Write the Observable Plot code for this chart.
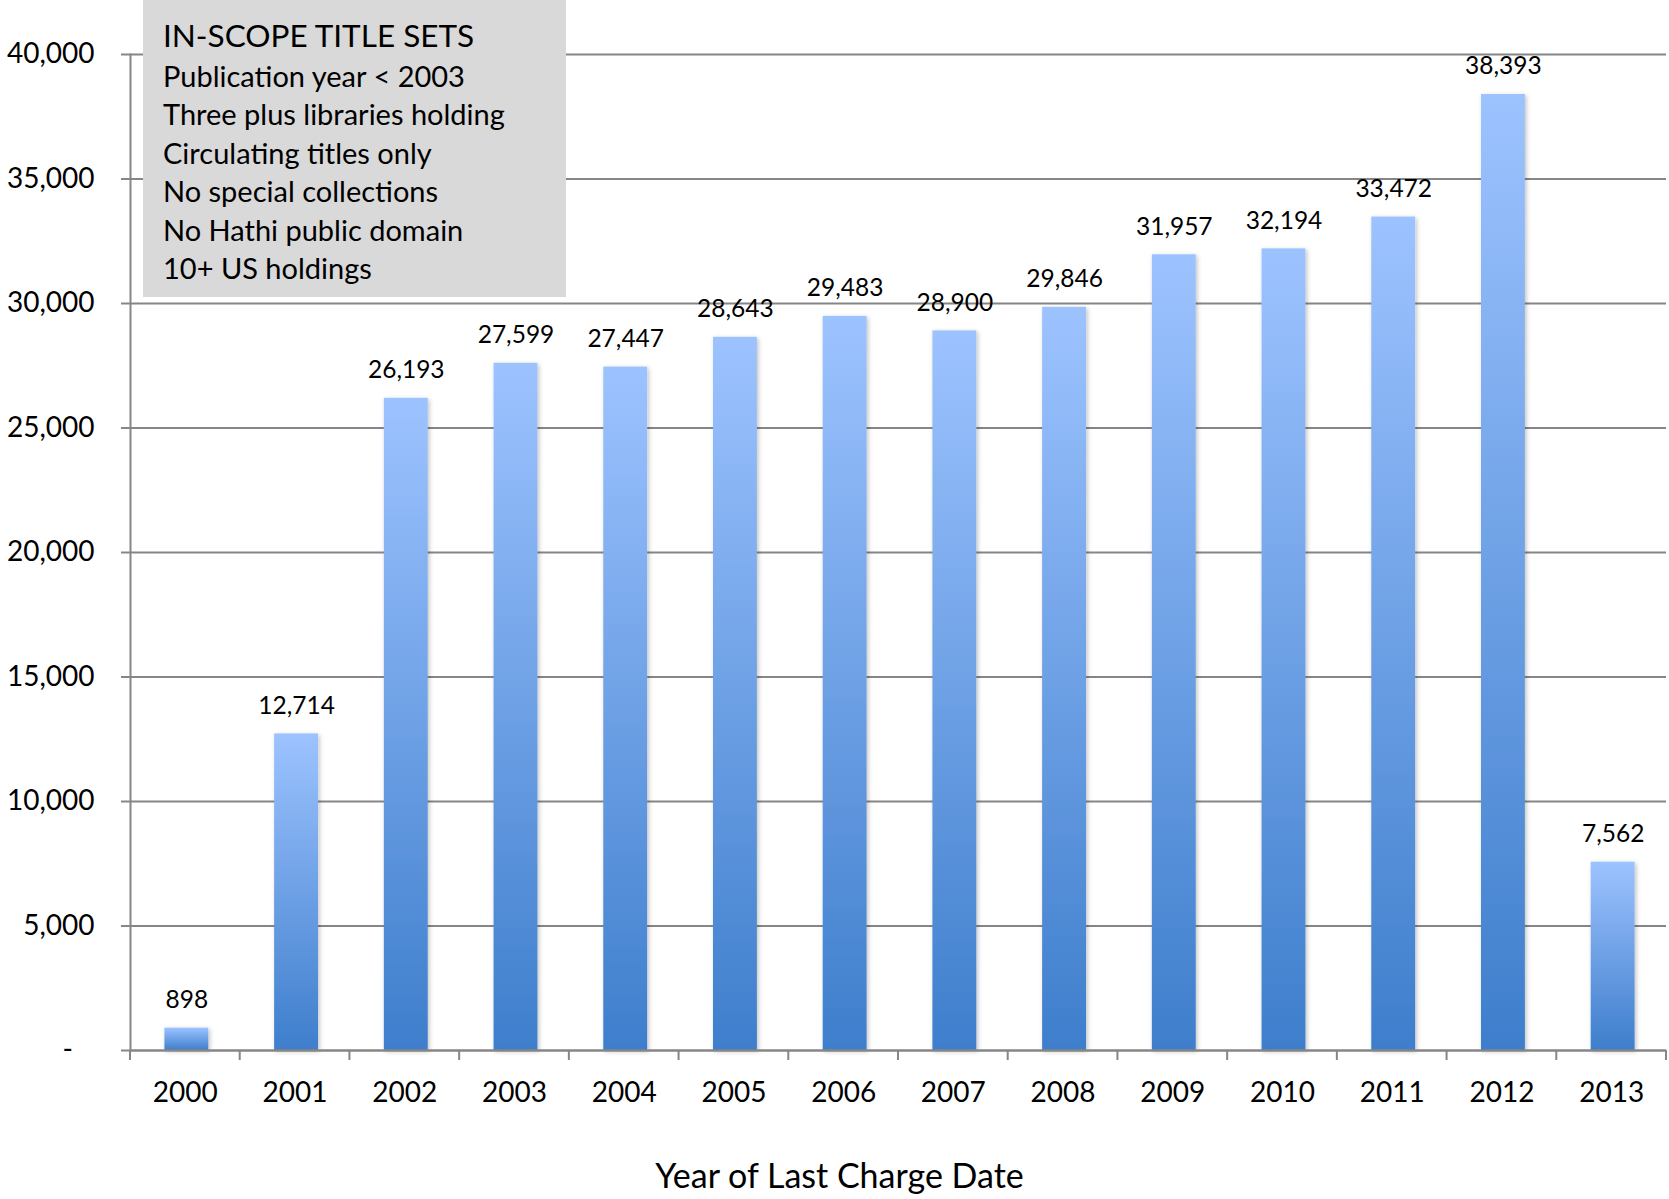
<!DOCTYPE html>
<html><head><meta charset="utf-8">
<script src="https://cdn.jsdelivr.net/npm/d3@7"></script>
<script src="https://cdn.jsdelivr.net/npm/@observablehq/plot@0.6"></script>
<style>body{margin:0;background:#fff;}</style>
</head><body><div id="chart"></div>
<script>
const years = ["2000","2001","2002","2003","2004","2005","2006","2007","2008","2009","2010","2011","2012","2013"];
const counts = [898, 12714, 26193, 27599, 27447, 28643, 29483, 28900, 29846, 31957, 32194, 33472, 38393, 7562];
const yTicks = [0, 5000, 10000, 15000, 20000, 25000, 30000, 35000, 40000];
const noteTitle = "IN-SCOPE TITLE SETS";
const noteLines = [
  "Publication year < 2003",
  "Three plus libraries holding",
  "Circulating titles only",
  "No special collections",
  "No Hathi public domain",
  "10+ US holdings"
];
const xTitle = "Year of Last Charge Date";

const data = years.map((year, i) => ({year, count: counts[i]}));
const NS = "http://www.w3.org/2000/svg";
function el(tag, attrs = {}, text) {
  const e = document.createElementNS(NS, tag);
  for (const k in attrs) e.setAttribute(k, attrs[k]);
  if (text != null) e.textContent = text;
  return e;
}
const gray = "#868686";
const fmt = d3.format(",");

// gradient + shadow defs
const defsMark = () => {
  const defs = el("defs");
  const g = el("linearGradient", {id: "barGrad", x1: 0, y1: 0, x2: 0, y2: 1});
  g.appendChild(el("stop", {offset: "0%", "stop-color": "#9dc3ff"}));
  g.appendChild(el("stop", {offset: "100%", "stop-color": "#3e7ecc"}));
  defs.appendChild(g);
  const f = el("filter", {id: "barShadow", x: "-20%", y: "-5%", width: "140%", height: "110%"});
  f.appendChild(el("feDropShadow", {dx: 1.5, dy: 1.5, stdDeviation: 2, "flood-color": "#000", "flood-opacity": 0.25}));
  defs.appendChild(f);
  return defs;
};

// category boundary ticks below the baseline
const boundaryTicks = (index, scales, values, dimensions) => {
  const {width, marginLeft, marginRight} = dimensions;
  const step = (width - marginLeft - marginRight) / years.length;
  const y0 = scales.y(0);
  const g = el("g", {stroke: gray, "stroke-width": 2});
  const xs = years.map(y => scales.x(y) + scales.x.bandwidth() / 2 - step / 2);
  xs.push(xs[xs.length - 1] + step);
  for (const x of xs) g.appendChild(el("line", {x1: x, x2: x, y1: y0, y2: y0 + 10}));
  return g;
};

// note box
const noteBox = (index, scales, values, dimensions) => {
  const {marginLeft} = dimensions;
  const g = el("g", {"font-family": "Lato, sans-serif", fill: "#000", "text-anchor": "start"});
  g.appendChild(el("rect", {x: marginLeft + 13, y: 0, width: 423, height: 297, fill: "#d9d9d9"}));
  g.appendChild(el("text", {x: marginLeft + 33, y: 35, "font-size": 31.5, "text-anchor": "start", "dominant-baseline": "central"}, noteTitle));
  noteLines.forEach((t, i) => {
    g.appendChild(el("text", {x: marginLeft + 33, y: 75 + i * 38.5, "font-size": 29, "text-anchor": "start", "dominant-baseline": "central"}, t));
  });
  return g;
};

const chart = Plot.plot({
  width: 1669, height: 1199,
  marginLeft: 130, marginRight: 3, marginTop: 54, marginBottom: 149,
  style: {fontFamily: "Lato, sans-serif", color: "#000", background: "#fff", overflow: "visible"},
  x: {domain: years, paddingInner: 0.6, paddingOuter: 0.3, round: false, label: null},
  y: {domain: [0, 40000], label: null},
  marks: [
    defsMark,
    Plot.ruleY(yTicks.slice(1), {stroke: gray, strokeWidth: 2}),
    Plot.frame({anchor: "left", stroke: gray, strokeWidth: 2}),
    Plot.barY(data, {x: "year", y: "count", fill: "url(#barGrad)", dx: 1.5}),
    Plot.ruleY([0], {stroke: gray, strokeWidth: 2.5}),
    boundaryTicks,
    Plot.axisY({ticks: yTicks, tickSize: 9, tickPadding: 27, fontSize: 28, stroke: gray, strokeWidth: 2, fill: "#000",
      tickFormat: d => d === 0 ? "-\u00a0\u00a0\u00a0" : fmt(d), label: null}),
    Plot.axisX({tickSize: 0, tickPadding: 32, fontSize: 28, fill: "#000", label: null}),
    Plot.text(data, {x: "year", y: "count", text: d => fmt(d.count), dy: -28, dx: 1.5, fontSize: 24.5, fill: "#000"}),
    Plot.text([xTitle], {frameAnchor: "bottom", dx: -59, dy: 137, fontSize: 34, fill: "#000"}),
    noteBox
  ]
});
d3.select(chart).selectAll("g[aria-label='bar']").attr("filter", "url(#barShadow)");
document.getElementById("chart").appendChild(chart);
</script>
</body></html>
